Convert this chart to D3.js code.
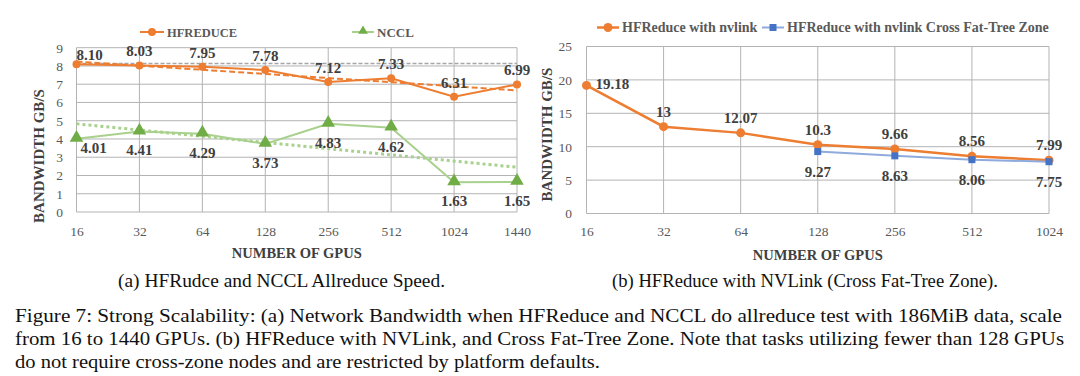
<!DOCTYPE html>
<html>
<head>
<meta charset="utf-8">
<script src="https://cdn.jsdelivr.net/npm/d3@7"></script>
<style>
    body { margin: 0; background: #ffffff; }
    svg { display: block; }
    svg text { font-family: "Liberation Serif", "DejaVu Serif", serif; }
</style>
</head>
<body>
<div id="figure"></div>
<script>
// ---- data, chart (a) ----
const gpusA = ["16", "32", "64", "128", "256", "512", "1024", "1440"];
const hfreduce = [8.10, 8.03, 7.95, 7.78, 7.12, 7.33, 6.31, 6.99];
const nccl = [4.01, 4.41, 4.29, 3.73, 4.83, 4.62, 1.63, 1.65];
const hfreduceTrend = [8.24, 6.66];   // dashed trendline, first / last category
const ncclTrend = [4.83, 2.45];       // dotted trendline, first / last category
const hfreduceRef = 8.13;             // grey dashed reference line
const ticksA = [0, 1, 2, 3, 4, 5, 6, 7, 8, 9];

// ---- data, chart (b) ----
const gpusB = ["16", "32", "64", "128", "256", "512", "1024"];
const nvlink = [19.18, 13, 12.07, 10.3, 9.66, 8.56, 7.99];
const nvlinkCross = [null, null, null, 9.27, 8.63, 8.06, 7.75];
const ticksB = [0, 5, 10, 15, 20, 25];

// ---- captions ----
const subCaptions = ["(a) HFRudce and NCCL Allreduce Speed.", "(b) HFReduce with NVLink (Cross Fat-Tree Zone)."];
const captionLines = [
    "Figure 7: Strong Scalability: (a) Network Bandwidth when HFReduce and NCCL do allreduce test with 186MiB data, scale",
    "from 16 to 1440 GPUs. (b) HFReduce with NVLink, and Cross Fat-Tree Zone. Note that tasks utilizing fewer than 128 GPUs",
    "do not require cross-zone nodes and are restricted by platform defaults."
];

const SERIF = '"Liberation Serif", "DejaVu Serif", serif';
const ORANGE = "#ed7d31";
const GREEN_LINE = "#a9d18e";
const GREEN_MARK = "#70ad47";
const BLUE_LINE = "#8faadc";
const BLUE_MARK = "#4472c4";
const GRID = "#b3b3b3";
const LABEL = "#404040";
const TICK = "#595959";

const svg = d3.select("#figure")
    .append("svg")
    .attr("width", 1080)
    .attr("height", 376)
    .attr("font-family", SERIF);

function drawFrame(x, y, ticks, cfg)
{
    const g = svg.append("g");
    const [x0, x1] = x.range();
    const [y0, y1] = y.range();

    // horizontal gridlines
    g.selectAll(".hgrid")
        .data(ticks)
        .enter().append("line")
        .attr("x1", x0).attr("x2", x1)
        .attr("y1", d => y(d)).attr("y2", d => y(d))
        .attr("stroke", GRID).attr("stroke-width", 1);

    // vertical gridlines, one per category
    g.selectAll(".vgrid")
        .data(x.domain())
        .enter().append("line")
        .attr("x1", d => x(d)).attr("x2", d => x(d))
        .attr("y1", y0).attr("y2", y1)
        .attr("stroke", GRID).attr("stroke-width", 1);

    // x axis labels
    const ax = g.append("g")
        .attr("transform", `translate(0,${y0})`)
        .call(d3.axisBottom(x).tickSize(0).tickPadding(cfg.xPad));
    ax.attr("font-family", SERIF).attr("font-size", 13.5);
    ax.select(".domain").remove();
    ax.selectAll("text").attr("fill", TICK);

    // y axis labels
    const ay = g.append("g")
        .attr("transform", `translate(${x0},0)`)
        .call(d3.axisLeft(y).tickValues(ticks).tickSize(0).tickPadding(cfg.yPad));
    ay.attr("font-family", SERIF).attr("font-size", 13.5);
    ay.select(".domain").remove();
    ay.selectAll("text").attr("fill", TICK);

    // axis titles
    g.append("text")
        .attr("x", (x0 + x1) / 2)
        .attr("y", cfg.xTitleY)
        .attr("text-anchor", "middle")
        .attr("font-weight", "bold")
        .attr("font-size", "14.5px")
        .attr("fill", LABEL)
        .text("NUMBER OF GPUS");

    g.append("text")
        .attr("transform", `translate(${cfg.yTitleX},${cfg.yTitleY}) rotate(-90)`)
        .attr("text-anchor", "middle")
        .attr("font-weight", "bold")
        .attr("font-size", "15px")
        .attr("fill", LABEL)
        .text("BANDWIDTH GB/S");
}

function drawSeries(x, y, cats, values, st)
{
    const pts = cats.map((c, i) => ({ c, v: values[i], i })).filter(d => d.v !== null);

    const line = d3.line()
        .x(d => x(d.c))
        .y(d => y(d.v));

    svg.append("path")
        .datum(pts)
        .attr("d", line)
        .attr("fill", "none")
        .attr("stroke", st.line)
        .attr("stroke-width", st.width);

    const marks = svg.append("g").selectAll("g")
        .data(pts)
        .enter().append("g")
        .attr("transform", d => `translate(${x(d.c)},${y(d.v)})`);

    if (st.shape === "circle") {
        marks.append("circle").attr("r", st.size).attr("fill", st.mark);
    } else if (st.shape === "square") {
        marks.append("rect")
            .attr("x", -st.size).attr("y", -st.size)
            .attr("width", st.size * 2).attr("height", st.size * 2)
            .attr("fill", st.mark);
    } else {
        marks.append("path")
            .attr("d", d3.symbol(d3.symbolTriangle, st.size * st.size * 3.2))
            .attr("transform", "translate(0,-1)")
            .attr("fill", st.mark);
    }

    // data labels
    svg.append("g").selectAll("text")
        .data(pts)
        .enter().append("text")
        .attr("x", d => x(d.c) + (d.i === 0 ? st.firstDx : 0))
        .attr("y", d => y(d.v) + (d.i === 0 ? st.firstDy : st.dy))
        .attr("text-anchor", d => d.i === 0 ? "start" : "middle")
        .attr("font-weight", "bold")
        .attr("font-size", "15px")
        .attr("fill", LABEL)
        .text(d => st.fmt(d.v));
}

function drawTrend(x, y, cats, ends, color, width, dash)
{
    const pts = [{ c: cats[0], v: ends[0] }, { c: cats[cats.length - 1], v: ends[1] }];
    svg.append("path")
        .datum(pts)
        .attr("d", d3.line().x(d => x(d.c)).y(d => y(d.v)))
        .attr("fill", "none")
        .attr("stroke", color)
        .attr("stroke-width", width)
        .attr("stroke-dasharray", dash);
}

function legendItem(x, y, lineLen, st, label, fontSize)
{
    const g = svg.append("g").attr("transform", `translate(${x},${y})`);
    g.append("line")
        .attr("x1", 0).attr("x2", lineLen)
        .attr("stroke", st.line).attr("stroke-width", st.width);
    if (st.shape === "circle") {
        g.append("circle").attr("cx", lineLen / 2).attr("r", st.size).attr("fill", st.mark);
    } else if (st.shape === "square") {
        g.append("rect").attr("x", lineLen / 2 - 3.5).attr("y", -3.5)
            .attr("width", 7).attr("height", 7).attr("fill", st.mark);
    } else {
        g.append("path")
            .attr("transform", `translate(${lineLen / 2},-1)`)
            .attr("d", d3.symbol(d3.symbolTriangle, 40))
            .attr("fill", st.mark);
    }
    g.append("text")
        .attr("x", lineLen + 3)
        .attr("y", 4.5)
        .attr("font-weight", "bold")
        .attr("font-size", fontSize)
        .attr("fill", TICK)
        .text(label);
}

// ---------- chart (a) ----------
const xA = d3.scalePoint().domain(gpusA).range([76.5, 517]);
const yA = d3.scaleLinear().domain([0, 9]).range([212, 47.7]);

drawFrame(xA, yA, ticksA, { xPad: 14, yPad: 13.5, xTitleY: 257.5, yTitleX: 44, yTitleY: 156 });

// grey reference line
svg.append("line")
    .attr("x1", xA(gpusA[0])).attr("x2", xA(gpusA[gpusA.length - 1]))
    .attr("y1", yA(hfreduceRef)).attr("y2", yA(hfreduceRef))
    .attr("stroke", "#a6a6a6").attr("stroke-width", 1.5)
    .attr("stroke-dasharray", "4,2");

const hfStyle = { line: ORANGE, mark: ORANGE, width: 2, shape: "circle", size: 4,
    dy: -9, firstDx: 0, firstDy: -4, fmt: d => d.toFixed(2) };
const ncStyle = { line: GREEN_LINE, mark: GREEN_MARK, width: 2, shape: "triangle", size: 5,
    dy: 24, firstDx: 4, firstDy: 14, fmt: d => d.toFixed(2) };

drawTrend(xA, yA, gpusA, ncclTrend, GREEN_LINE, 3, "3,3");
drawSeries(xA, yA, gpusA, nccl, ncStyle);
drawTrend(xA, yA, gpusA, hfreduceTrend, ORANGE, 2, "6,3");
drawSeries(xA, yA, gpusA, hfreduce, hfStyle);

legendItem(140, 32, 24, hfStyle, "HFREDUCE", "12.5px");
legendItem(352, 32, 22, ncStyle, "NCCL", "13px");

// ---------- chart (b) ----------
const xB = d3.scalePoint().domain(gpusB).range([586.5, 1049]);
const yB = d3.scaleLinear().domain([0, 25]).range([213.5, 46.5]);

drawFrame(xB, yB, ticksB, { xPad: 13, yPad: 14.5, xTitleY: 260, yTitleX: 552, yTitleY: 134.5 });

const nvStyle = { line: ORANGE, mark: ORANGE, width: 2.5, shape: "circle", size: 4.5,
    dy: -10, firstDx: 9, firstDy: 4, fmt: d => String(d) };
const crossStyle = { line: BLUE_LINE, mark: BLUE_MARK, width: 2, shape: "square", size: 3.5,
    dy: 25, firstDx: 0, firstDy: 25, fmt: d => String(d) };

drawSeries(xB, yB, gpusB, nvlink, nvStyle);
drawSeries(xB, yB, gpusB, nvlinkCross, crossStyle);

legendItem(597, 27.5, 22, nvStyle, "HFReduce with nvlink", "14px");
legendItem(762, 27.5, 22, crossStyle, "HFReduce with nvlink Cross Fat-Tree Zone", "14px");

// ---------- captions ----------
const subX = [[118, 445], [612, 998]];
svg.selectAll(".sub")
    .data(subCaptions)
    .enter().append("text")
    .attr("x", (d, i) => subX[i][0])
    .attr("y", 287)
    .attr("font-size", "19px")
    .attr("fill", "#111")
    .attr("textLength", (d, i) => subX[i][1] - subX[i][0])
    .attr("lengthAdjust", "spacingAndGlyphs")
    .text(d => d);

const capEnds = [1062, 1064, 600];
svg.selectAll(".cap")
    .data(captionLines)
    .enter().append("text")
    .attr("x", 15)
    .attr("y", (d, i) => 322 + i * 23)
    .attr("font-size", "19.5px")
    .attr("fill", "#111")
    .attr("textLength", (d, i) => capEnds[i] - 15)
    .attr("lengthAdjust", "spacingAndGlyphs")
    .text(d => d);
</script>
</body>
</html>
